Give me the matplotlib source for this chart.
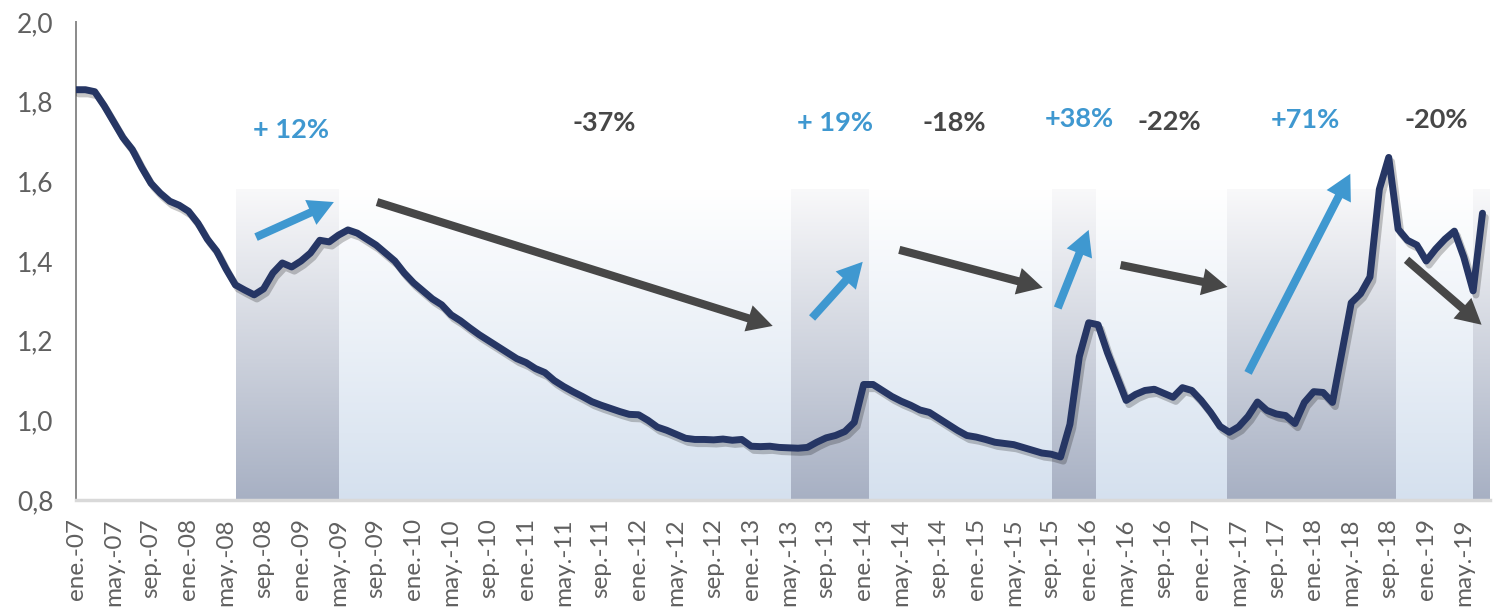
import numpy as np
import matplotlib
matplotlib.use("Agg")
from matplotlib import pyplot as plt
import matplotlib.patheffects as pe

# monthly series, ene-07 .. jul-19
values = [
    1.83, 1.83, 1.825, 1.79, 1.75, 1.71, 1.68, 1.635, 1.595, 1.57,
    1.55, 1.54, 1.525, 1.495, 1.455, 1.425, 1.38, 1.34, 1.327, 1.315,
    1.33, 1.37, 1.395, 1.385, 1.40, 1.42, 1.452, 1.448, 1.465, 1.478,
    1.47, 1.455, 1.44, 1.42, 1.40, 1.37, 1.345, 1.325, 1.305, 1.29,
    1.265, 1.25, 1.232, 1.215, 1.20, 1.185, 1.17, 1.155, 1.145, 1.13,
    1.12, 1.10, 1.085, 1.072, 1.06, 1.047, 1.038, 1.03, 1.022, 1.015,
    1.014, 1.00, 0.983, 0.975, 0.965, 0.955, 0.952, 0.952, 0.951, 0.953,
    0.95, 0.952, 0.935, 0.934, 0.935, 0.932, 0.931, 0.93, 0.932, 0.945,
    0.956, 0.962, 0.972, 0.995, 1.09, 1.09, 1.075, 1.06, 1.048, 1.038,
    1.026, 1.02, 1.005, 0.99, 0.975, 0.962, 0.958, 0.952, 0.945, 0.942,
    0.939, 0.932, 0.925, 0.918, 0.915, 0.908, 0.99, 1.16, 1.245, 1.24,
    1.17, 1.11, 1.05, 1.065, 1.075, 1.078, 1.068, 1.058, 1.082, 1.075,
    1.05, 1.02, 0.985, 0.97, 0.984, 1.01, 1.046, 1.025, 1.016, 1.012,
    0.992, 1.045, 1.072, 1.07, 1.045, 1.17, 1.295, 1.318, 1.36, 1.58,
    1.66, 1.48, 1.452, 1.44, 1.40, 1.43, 1.455, 1.475, 1.41, 1.325,
    1.52,
]

month_names = ['ene.', 'may.', 'sep.']
tick_labels = []
for yy in range(7, 20):
    for mn in month_names:
        tick_labels.append('%s-%02d' % (mn, yy))
tick_labels = tick_labels[:38]   # up to may.-19

# shaded phases (month index start/end) and kind: up = gray, down = blue
phase_start = [17.1, 28.1, 76.2, 84.6, 104.1, 108.8, 122.7, 140.8, 149.0]
phase_end = [28.1, 76.2, 84.6, 104.1, 108.8, 122.7, 140.8, 149.0, 150.8]
phase_kind = ['up', 'down', 'up', 'down', 'up', 'down', 'up', 'down', 'up']

pct_text = ['+ 12%', '-37%', '+ 19%', '-18%', '+38%', '-22%', '+71%', '-20%']
pct_kind = ['up', 'down', 'up', 'down', 'up', 'down', 'up', 'down']

# annotation placement
pct_x = [22.9, 56.3, 80.9, 93.7, 107.0, 116.6, 131.1, 145.1]
pct_y = [1.728, 1.746, 1.746, 1.746, 1.756, 1.75, 1.753, 1.753]
arrow_from = [(19.2, 1.460), (32.1, 1.548), (78.5, 1.257), (87.8, 1.428),
              (104.7, 1.282), (111.4, 1.390), (125.0, 1.119), (141.9, 1.403)]
arrow_to = [(27.5, 1.548), (74.3, 1.237), (83.9, 1.398), (103.1, 1.333),
            (108.0, 1.478), (122.8, 1.335), (135.9, 1.619), (149.9, 1.240)]

blue = '#3f98d0'
dark = '#474747'
navy = '#263664'

plt.rcParams['font.family'] = ['Lato', 'DejaVu Sans']

fig = plt.figure(figsize=(14.95, 6.10), dpi=100)
ax = fig.add_axes([76 / 1495, 1 - 500 / 610, (1490 - 76) / 1495, (500 - 22) / 610])

top_shade = 1.58
grad = np.linspace(0, 1, 256)[:, None]
colors = {
    'up': (np.array([0.975, 0.975, 0.98]), np.array([0.655, 0.69, 0.765])),
    'down': (np.array([1.0, 1.0, 1.0]), np.array([0.835, 0.88, 0.935])),
}
for s, e, k in zip(phase_start, phase_end, phase_kind):
    c_top, c_bot = colors[k]
    img = c_top[None, None, :] * (1 - grad[:, :, None]) + c_bot[None, None, :] * grad[:, :, None]
    ax.imshow(img, extent=(s, e, 0.8, top_shade), aspect='auto', origin='upper',
              zorder=0, interpolation='bilinear')

x = np.arange(len(values))
ax.plot(x, values, color=navy, lw=5, solid_capstyle='round', solid_joinstyle='round', zorder=3,
        path_effects=[pe.SimpleLineShadow(offset=(2, -3), shadow_color='black', alpha=0.22),
                      pe.Normal()])

for (x0, y0), (x1, y1), k in zip(arrow_from, arrow_to, pct_kind):
    ax.annotate('', xy=(x1, y1), xytext=(x0, y0),
                arrowprops=dict(arrowstyle='simple,head_length=1.3,head_width=1.4,tail_width=0.42',
                                fc=blue if k == 'up' else dark, ec='none',
                                shrinkA=0, shrinkB=0, mutation_scale=14),
                zorder=4)

for t, k, px, py in zip(pct_text, pct_kind, pct_x, pct_y):
    ax.text(px, py, t, color=blue if k == 'up' else dark, fontsize=19.5,
            fontweight='bold', ha='center', va='center', zorder=5)

ax.set_xlim(0, 150.8)
ax.set_ylim(0.8, 2.0)
ax.set_xticks(np.arange(0, 4 * len(tick_labels), 4))
ax.set_xticklabels(tick_labels, rotation=90, fontsize=17.5, color='#606060')
yt = np.round(np.arange(0.8, 2.01, 0.2), 1)
ax.set_yticks(yt)
ax.set_yticklabels([('%.1f' % v).replace('.', ',') for v in yt], fontsize=19,
                   color='#606060')
ax.tick_params(axis='x', length=0, pad=13)
ax.tick_params(axis='y', length=0, pad=16)

for side in ['top', 'right']:
    ax.spines[side].set_visible(False)
ax.spines['left'].set_color('#8a8a8a')
ax.spines['left'].set_linewidth(1.4)
ax.spines['bottom'].set_color('#d9d9d9')
ax.spines['bottom'].set_linewidth(2.5)
ax.set_facecolor('white')

fig.savefig('out.png', dpi=100, facecolor='white')
